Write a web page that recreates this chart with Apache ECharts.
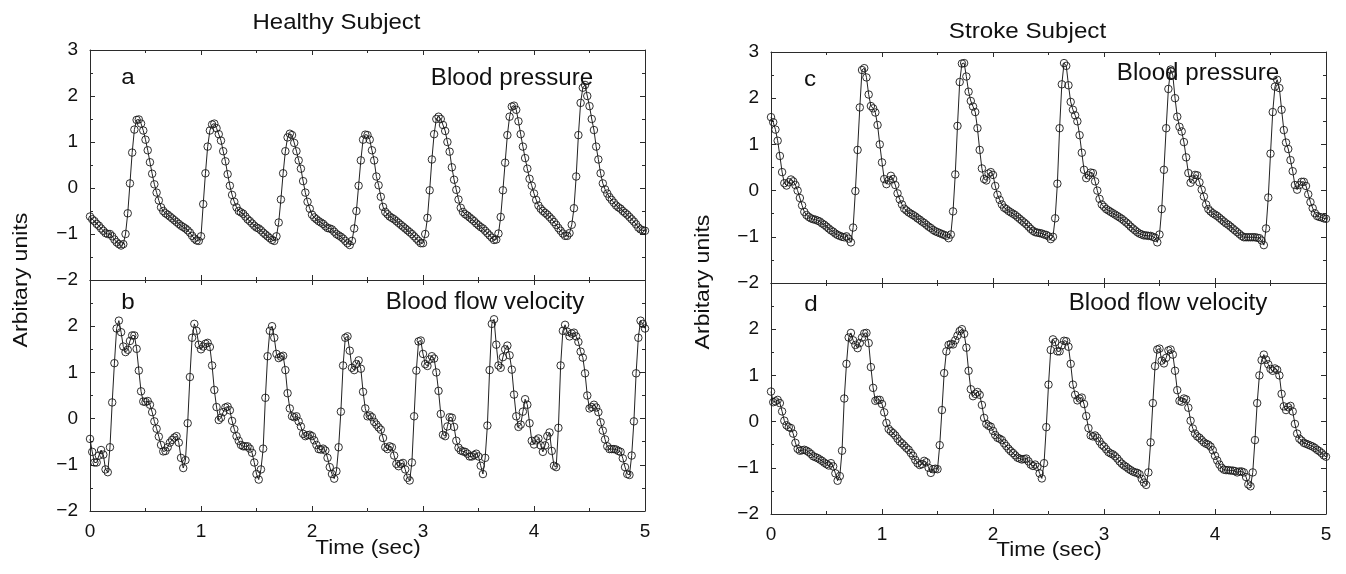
<!DOCTYPE html>
<html>
<head>
<meta charset="utf-8">
<script src="https://cdn.jsdelivr.net/npm/echarts@6/dist/echarts.min.js"></script>
<style>
html,body{margin:0;padding:0;background:#fff;}
#chart{width:1346px;height:574px;}
</style>
</head>
<body>
<div id="chart"></div>
<script>
// ---------------- data ----------------
const SAMPLE_STEP = 0.02;              // seconds between samples
const yTicks = [-2, -1, 0, 1, 2, 3];
const xTicks = [0, 1, 2, 3, 4, 5];

// a: Healthy subject, blood pressure
const healthyPressure = [
  -0.62, -0.68, -0.72, -0.78, -0.82, -0.88, -0.93, -0.98, -1.00, -1.00,
  -1.05, -1.12, -1.18, -1.22, -1.25, -1.22, -1.00, -0.55, 0.10, 0.77,
  1.27, 1.48, 1.49, 1.40, 1.25, 1.05, 0.82, 0.56, 0.31, 0.08,
  -0.10, -0.27, -0.42, -0.50, -0.55, -0.58, -0.62, -0.66, -0.70, -0.74,
  -0.78, -0.82, -0.85, -0.88, -0.92, -0.97, -1.04, -1.10, -1.14, -1.15,
  -1.05, -0.35, 0.32, 0.90, 1.25, 1.38, 1.40, 1.30, 1.17, 1.03,
  0.80, 0.58, 0.30, 0.05, -0.15, -0.30, -0.42, -0.50, -0.53, -0.56,
  -0.62, -0.68, -0.72, -0.77, -0.82, -0.86, -0.88, -0.92, -0.97, -1.01,
  -1.05, -1.09, -1.13, -1.15, -1.05, -0.75, -0.25, 0.32, 0.80, 1.10,
  1.18, 1.15, 0.98, 0.80, 0.60, 0.42, 0.15, -0.10, -0.30, -0.45,
  -0.58, -0.64, -0.68, -0.72, -0.75, -0.78, -0.83, -0.87, -0.88, -0.90,
  -0.95, -1.00, -1.03, -1.06, -1.10, -1.15, -1.20, -1.24, -1.15, -0.88,
  -0.50, 0.05, 0.60, 1.05, 1.16, 1.15, 1.05, 0.82, 0.60, 0.25,
  0.06, -0.19, -0.41, -0.52, -0.57, -0.62, -0.65, -0.68, -0.72, -0.76,
  -0.80, -0.84, -0.88, -0.92, -0.96, -1.00, -1.05, -1.10, -1.15, -1.20,
  -1.20, -1.00, -0.65, -0.05, 0.62, 1.17, 1.50, 1.55, 1.50, 1.37,
  1.24, 1.00, 0.79, 0.45, 0.18, -0.04, -0.25, -0.43, -0.52, -0.57,
  -0.60, -0.64, -0.68, -0.72, -0.77, -0.81, -0.85, -0.88, -0.93, -0.98,
  -1.03, -1.08, -1.13, -1.12, -0.99, -0.63, -0.05, 0.55, 1.15, 1.55,
  1.77, 1.79, 1.70, 1.45, 1.17, 0.90, 0.65, 0.42, 0.20, 0.05,
  -0.12, -0.26, -0.38, -0.45, -0.50, -0.54, -0.58, -0.63, -0.68, -0.74,
  -0.80, -0.87, -0.93, -0.99, -1.04, -1.04, -0.98, -0.80, -0.44, 0.25,
  1.15, 1.85, 2.18, 2.24, 2.00, 1.78, 1.50, 1.26, 0.90, 0.62,
  0.32, 0.10, -0.03, -0.12, -0.20, -0.26, -0.32, -0.38, -0.42, -0.45,
  -0.50, -0.54, -0.58, -0.63, -0.68, -0.73, -0.79, -0.86, -0.90, -0.92,
  -0.93
];

// b: Healthy subject, blood flow velocity
const healthyVelocity = [
  -0.44, -0.72, -0.95, -0.95, -0.80, -0.68, -0.78, -1.10, -1.16, -0.62,
  0.35, 1.20, 1.95, 2.12, 1.87, 1.56, 1.44, 1.49, 1.68, 1.80,
  1.80, 1.51, 1.04, 0.59, 0.37, 0.36, 0.38, 0.30, 0.14, -0.06,
  -0.22, -0.39, -0.57, -0.71, -0.70, -0.62, -0.52, -0.46, -0.41, -0.38,
  -0.52, -0.85, -1.07, -0.90, -0.10, 0.90, 1.75, 2.05, 1.90, 1.60,
  1.50, 1.56, 1.62, 1.64, 1.55, 1.15, 0.62, 0.25, -0.03, 0.02,
  0.14, 0.24, 0.26, 0.18, -0.05, -0.23, -0.38, -0.48, -0.57, -0.60,
  -0.60, -0.60, -0.65, -0.74, -0.95, -1.20, -1.32, -1.10, -0.65, 0.45,
  1.35, 1.90, 2.00, 1.75, 1.40, 1.31, 1.34, 1.36, 1.05, 0.55,
  0.22, 0.05, 0.03, 0.05, -0.06, -0.17, -0.33, -0.38, -0.36, -0.35,
  -0.38, -0.47, -0.57, -0.66, -0.67, -0.65, -0.69, -0.85, -1.05, -1.20,
  -1.30, -1.14, -0.62, 0.15, 1.15, 1.75, 1.78, 1.47, 1.10, 1.05,
  1.18, 1.26, 1.08, 0.58, 0.22, 0.05, 0.07, 0.03, -0.07, -0.13,
  -0.19, -0.24, -0.42, -0.62, -0.66, -0.60, -0.62, -0.80, -0.98, -1.03,
  -0.98, -0.96, -1.10, -1.28, -1.34, -0.95, 0.05, 1.04, 1.67, 1.69,
  1.40, 1.18, 1.14, 1.28, 1.35, 1.30, 1.00, 0.60, 0.10, -0.35,
  -0.38, -0.17, 0.03, 0.02, -0.18, -0.48, -0.63, -0.69, -0.71, -0.72,
  -0.76, -0.82, -0.82, -0.79, -0.76, -0.82, -1.02, -1.20, -0.85, -0.15,
  1.05, 2.05, 2.15, 1.60, 1.15, 1.10, 1.33, 1.50, 1.58, 1.37,
  1.06, 0.52, 0.05, -0.18, -0.13, 0.15, 0.42, 0.30, -0.10, -0.48,
  -0.56, -0.47, -0.43, -0.58, -0.72, -0.58, -0.38, -0.30, -0.70, -1.02,
  -1.05, -0.20, 1.15, 1.90, 2.03, 1.88, 1.78, 1.84, 1.86, 1.78,
  1.66, 1.45, 1.32, 0.98, 0.50, 0.22, 0.25, 0.30, 0.24, 0.14,
  -0.08, -0.26, -0.45, -0.60, -0.66, -0.66, -0.66, -0.67, -0.70, -0.72,
  -0.86, -1.05, -1.20, -1.22, -0.80, -0.06, 0.98, 1.75, 2.12, 2.05,
  1.95
];

// c: Stroke subject, blood pressure
const strokePressure = [
  1.59, 1.48, 1.32, 1.08, 0.75, 0.40, 0.16, 0.11, 0.18, 0.24,
  0.20, 0.12, 0.00, -0.16, -0.32, -0.46, -0.53, -0.57, -0.60, -0.62,
  -0.63, -0.65, -0.67, -0.71, -0.74, -0.78, -0.82, -0.86, -0.89, -0.93,
  -0.96, -0.98, -1.00, -1.01, -0.99, -1.04, -1.12, -0.80, -0.01, 0.88,
  1.80, 2.61, 2.65, 2.45, 2.08, 1.83, 1.78, 1.69, 1.42, 1.00,
  0.61, 0.25, 0.14, 0.22, 0.32, 0.25, 0.12, -0.06, -0.19, -0.30,
  -0.39, -0.43, -0.47, -0.50, -0.53, -0.56, -0.60, -0.63, -0.67, -0.70,
  -0.74, -0.78, -0.81, -0.85, -0.88, -0.90, -0.92, -0.94, -0.96, -0.98,
  -1.03, -0.95, -0.45, 0.35, 1.40, 2.35, 2.75, 2.76, 2.47, 2.14,
  1.94, 1.82, 1.70, 1.35, 0.88, 0.48, 0.25, 0.22, 0.37, 0.40,
  0.34, 0.10, -0.09, -0.20, -0.30, -0.37, -0.40, -0.44, -0.47, -0.50,
  -0.53, -0.57, -0.61, -0.65, -0.69, -0.73, -0.78, -0.83, -0.87, -0.90,
  -0.91, -0.92, -0.93, -0.95, -0.96, -0.99, -1.05, -1.00, -0.60, 0.15,
  1.35, 2.30, 2.76, 2.70, 2.28, 1.92, 1.75, 1.63, 1.50, 1.20,
  0.82, 0.45, 0.27, 0.33, 0.39, 0.38, 0.20, 0.00, -0.18, -0.30,
  -0.35, -0.40, -0.43, -0.46, -0.49, -0.52, -0.55, -0.58, -0.61, -0.65,
  -0.69, -0.73, -0.78, -0.82, -0.86, -0.90, -0.93, -0.95, -0.97, -0.97,
  -0.98, -0.98, -1.00, -1.02, -1.12, -0.95, -0.40, 0.45, 1.35, 2.20,
  2.62, 2.50, 2.00, 1.60, 1.38, 1.28, 1.05, 0.72, 0.38, 0.17,
  0.24, 0.34, 0.33, 0.18, 0.02, -0.13, -0.30, -0.40, -0.45, -0.49,
  -0.52, -0.55, -0.59, -0.63, -0.67, -0.71, -0.74, -0.78, -0.82, -0.86,
  -0.90, -0.94, -0.98, -1.01, -1.01, -1.01, -1.01, -1.01, -1.01, -1.02,
  -1.03, -1.08, -1.18, -0.82, -0.15, 0.80, 1.70, 2.25, 2.40, 2.22,
  1.75, 1.31, 1.04, 0.90, 0.66, 0.42, 0.12, 0.02, 0.12, 0.19,
  0.19, 0.10, -0.08, -0.25, -0.38, -0.49, -0.55, -0.57, -0.58, -0.60,
  -0.61
];

// d: Stroke subject, blood flow velocity
const strokeVelocity = [
  0.65, 0.42, 0.44, 0.47, 0.40, 0.22, 0.02, -0.08, -0.12, -0.14,
  -0.26, -0.46, -0.59, -0.63, -0.62, -0.61, -0.63, -0.66, -0.70, -0.75,
  -0.77, -0.79, -0.82, -0.85, -0.89, -0.92, -0.95, -0.90, -0.97, -1.12,
  -1.28, -1.18, -0.63, 0.50, 1.25, 1.82, 1.92, 1.76, 1.66, 1.59,
  1.70, 1.82, 1.91, 1.92, 1.70, 1.18, 0.73, 0.45, 0.47, 0.47,
  0.38, 0.20, -0.03, -0.16, -0.21, -0.25, -0.30, -0.37, -0.43, -0.47,
  -0.52, -0.57, -0.61, -0.68, -0.74, -0.83, -0.90, -0.94, -0.92, -0.85,
  -0.88, -1.00, -1.11, -1.03, -1.02, -1.03, -0.51, 0.25, 1.05, 1.52,
  1.66, 1.68, 1.67, 1.76, 1.86, 1.96, 2.00, 1.90, 1.60, 1.10,
  0.70, 0.55, 0.60, 0.64, 0.58, 0.36, 0.08, -0.05, -0.09, -0.11,
  -0.20, -0.29, -0.35, -0.37, -0.40, -0.47, -0.53, -0.59, -0.64, -0.68,
  -0.73, -0.78, -0.80, -0.82, -0.81, -0.80, -0.86, -0.93, -0.96, -0.93,
  -0.98, -1.12, -1.23, -0.90, -0.12, 0.80, 1.55, 1.78, 1.72, 1.52,
  1.52, 1.65, 1.75, 1.74, 1.62, 1.25, 0.80, 0.58, 0.46, 0.50,
  0.52, 0.38, 0.12, -0.14, -0.30, -0.32, -0.30, -0.35, -0.43, -0.50,
  -0.54, -0.60, -0.66, -0.69, -0.71, -0.75, -0.80, -0.86, -0.91, -0.95,
  -0.98, -1.02, -1.05, -1.08, -1.10, -1.11, -1.14, -1.24, -1.32, -1.37,
  -1.10, -0.45, 0.40, 1.20, 1.56, 1.58, 1.32, 1.26, 1.38, 1.54,
  1.56, 1.45, 1.10, 0.68, 0.45, 0.43, 0.50, 0.48, 0.30, 0.02,
  -0.15, -0.26, -0.32, -0.35, -0.40, -0.45, -0.48, -0.50, -0.54, -0.62,
  -0.74, -0.84, -0.93, -1.00, -1.04, -1.05, -1.05, -1.06, -1.06, -1.07,
  -1.10, -1.08, -1.08, -1.10, -1.20, -1.36, -1.40, -1.10, -0.40, 0.40,
  1.00, 1.33, 1.45, 1.34, 1.24, 1.14, 1.10, 1.15, 1.12, 1.00,
  0.60, 0.33, 0.25, 0.31, 0.34, 0.22, -0.05, -0.26, -0.37, -0.41,
  -0.46, -0.48, -0.50, -0.52, -0.54, -0.57, -0.61, -0.64, -0.68, -0.73,
  -0.76
];

// ---------------- chart ----------------
const FONT = '"Liberation Sans", Arial, Helvetica, sans-serif';
const INK = '#111';
const FRAME = '#2b2b2b';

function toPairs(values) {
  return values.map((v, i) => [Math.round(i * SAMPLE_STEP * 100) / 100, v]);
}
function fmtNum(v) { return v < 0 ? '\u2212' + Math.abs(v) : String(v); }

const grids = [
  { left: 90, top: 50, width: 555, height: 230 },   // a
  { left: 90, top: 280, width: 555, height: 231 },  // b
  { left: 771, top: 52, width: 555, height: 231 },  // c
  { left: 771, top: 283, width: 555, height: 231 }  // d
];

const tickCommon = {
  axisLine: { onZero: false, lineStyle: { color: FRAME, width: 1 } },
  axisTick: { inside: true, length: 5, lineStyle: { color: FRAME, width: 1 } },
  minorTick: { show: true, splitNumber: 2, length: 3, lineStyle: { color: FRAME, width: 1 } },
  splitLine: { show: false },
  minorSplitLine: { show: false }
};

const xAxis = [];
const yAxis = [];
grids.forEach((g, i) => {
  const isBottom = (i % 2 === 1);
  xAxis.push(Object.assign({
    type: 'value', gridIndex: i, position: 'bottom',
    min: xTicks[0], max: xTicks[xTicks.length - 1], interval: 1,
    axisLabel: { show: isBottom, margin: 11, color: INK, fontSize: 19, fontFamily: FONT, formatter: fmtNum }
  }, tickCommon));
  xAxis.push(Object.assign({
    type: 'value', gridIndex: i, position: 'top',
    min: xTicks[0], max: xTicks[xTicks.length - 1], interval: 1,
    axisLabel: { show: false }
  }, tickCommon));
  yAxis.push(Object.assign({
    type: 'value', gridIndex: i, position: 'left',
    min: yTicks[0], max: yTicks[yTicks.length - 1], interval: 1,
    axisLabel: {
      show: true, margin: 12, color: INK, fontSize: 19, fontFamily: FONT,
      formatter: v => (isBottom && v === 3) ? '' : fmtNum(v)
    }
  }, tickCommon));
  yAxis.push(Object.assign({
    type: 'value', gridIndex: i, position: 'right',
    min: yTicks[0], max: yTicks[yTicks.length - 1], interval: 1,
    axisLabel: { show: false }
  }, tickCommon));
});

const seriesData = [healthyPressure, healthyVelocity, strokePressure, strokeVelocity];
const seriesNames = ['Healthy blood pressure', 'Healthy blood flow velocity',
                     'Stroke blood pressure', 'Stroke blood flow velocity'];
const series = seriesData.map((vals, i) => ({
  type: 'line', name: seriesNames[i],
  xAxisIndex: 2 * i, yAxisIndex: 2 * i,
  data: toPairs(vals),
  symbol: 'circle', symbolSize: 7.5, showSymbol: true, showAllSymbol: true,
  lineStyle: { color: '#222', width: 1 },
  itemStyle: { color: 'rgba(255,255,255,0)', borderColor: '#1a1a1a', borderWidth: 0.9 },
  emphasis: { disabled: true },
  silent: true
}));

function txt(text, x, y, size, sx, rot) {
  return {
    type: 'text', x: x, y: y, rotation: rot || 0, scaleX: sx, scaleY: 1,
    silent: true, z: 10,
    style: { text: text, fill: INK, font: size + 'px ' + FONT, align: 'center', verticalAlign: 'middle' }
  };
}

const graphic = [
  txt('Healthy Subject', 336.5, 22.5, 22, 1.09),
  txt('Stroke Subject', 1027.5, 31.5, 22, 1.1),
  txt('a', 128, 78, 22, 1.1),
  txt('b', 128, 302.5, 22, 1.1),
  txt('c', 810, 79.5, 22, 1.1),
  txt('d', 811, 304.5, 22, 1.1),
  txt('Blood pressure', 512, 79, 23, 1.05),
  txt('Blood pressure', 1198, 73.5, 23, 1.05),
  txt('Blood flow velocity', 485, 303, 23, 1.05),
  txt('Blood flow velocity', 1168, 304, 23, 1.05),
  txt('Time (sec)', 368, 548, 21, 1.07),
  txt('Time (sec)', 1049, 550, 21, 1.07),
  txt('Arbitary units', 21, 280, 21, 1.1, Math.PI / 2),
  txt('Arbitary units', 703, 282, 21, 1.1, Math.PI / 2)
];

const chart = echarts.init(document.getElementById('chart'), null, { renderer: 'canvas' });
chart.setOption({
  backgroundColor: '#ffffff',
  animation: false,
  grid: grids,
  xAxis: xAxis,
  yAxis: yAxis,
  series: series,
  graphic: graphic
});
</script>
</body>
</html>
